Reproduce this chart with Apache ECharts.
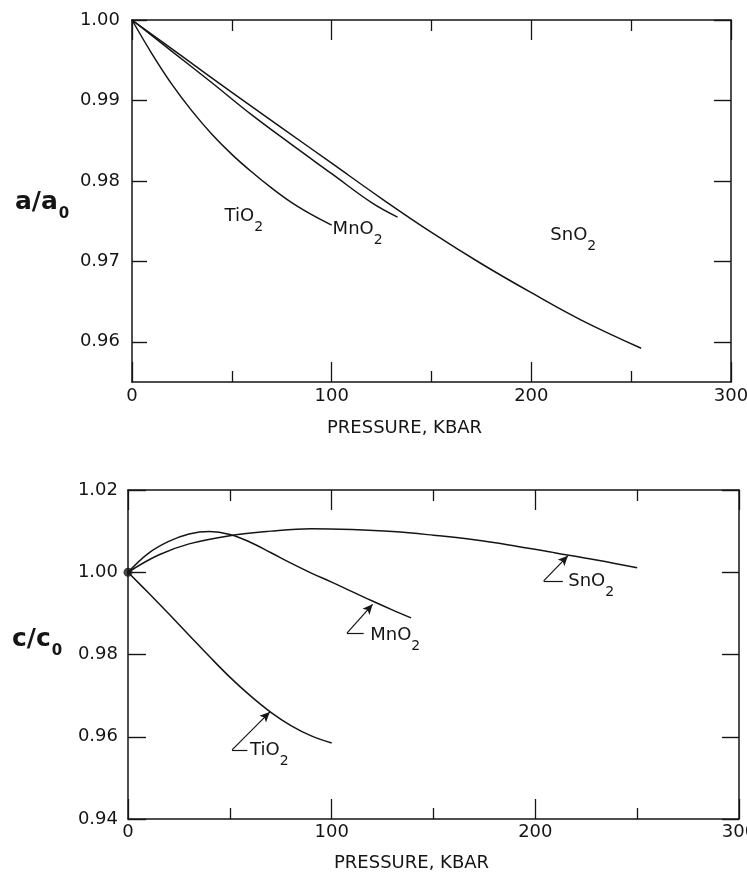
<!DOCTYPE html>
<html><head><meta charset="utf-8">
<script src="https://cdn.jsdelivr.net/npm/echarts@6/dist/echarts.min.js"></script>
<style>html,body{margin:0;padding:0;background:#fff}#c{width:747px;height:875px}</style>
</head><body><div id="c"></div>
<script>
// ---------------- data ----------------
const pressureTicks = [0, 100, 200, 300];
const aTicks = [0.96, 0.97, 0.98, 0.99, 1.00];
const cTicks = [0.94, 0.96, 0.98, 1.00, 1.02];

// upper panel: a/a0 vs pressure (kbar)
const aTiO2 = [[0,1.0],[10,0.9958],[20,0.9920],[30,0.9887],[40,0.9858],[50,0.9833],[60,0.9811],[70,0.9791],[80,0.9773],[90,0.9758],[100,0.9745]];
const aMnO2 = [[0,1.0],[20,0.9961],[40,0.9922],[60,0.9882],[80,0.9845],[100,0.9809],[120,0.9773],[133,0.9755]];
const aSnO2 = [[0,1.0],[25,0.9955],[50,0.9910],[75,0.9866],[100,0.9822],[125,0.9778],[150,0.9736],[175,0.9697],[200,0.9661],[225,0.9627],[255,0.9592]];

// lower panel: c/c0 vs pressure (kbar)
const cTiO2 = [[0,1.0],[10,0.9950],[20,0.9899],[30,0.9847],[40,0.9795],[50,0.9745],[60,0.9700],[70,0.9660],[80,0.9627],[90,0.9602],[100,0.9585]];
const cMnO2 = [[0,1.0],[10,1.0046],[20,1.0075],[30,1.0093],[40,1.0099],[50,1.0092],[60,1.0073],[70,1.0048],[80,1.0022],[90,0.9998],[100,0.9976],[110,0.9953],[120,0.9930],[130,0.9908],[139,0.9889]];
const cSnO2 = [[0,1.0],[15,1.0042],[30,1.0069],[50,1.0089],[70,1.0100],[90,1.0106],[110,1.0104],[130,1.0099],[150,1.0090],[170,1.0079],[190,1.0064],[210,1.0047],[230,1.0030],[250,1.0011]];
const cOrigin = [[0, 1.0]];

// curve labels (data units)
const aLabelTiO2 = [56, 0.9753];
const aLabelMnO2 = [113, 0.9737];
const aLabelSnO2 = [221, 0.9730];
const cLabelTiO2 = [59.7, 0.9562];
const cLabelMnO2 = [118.7, 0.9841];
const cLabelSnO2 = [215.9, 0.9974];
// leader lines: label end -> corner -> arrow tip (data units)
const cLeaderTiO2 = [[58.6,0.9568],[51.1,0.9568],[69.6,0.9660]];
const cLeaderMnO2 = [[115.7,0.9852],[107.5,0.9852],[120.1,0.9922]];
const cLeaderSnO2 = [[213.5,0.9979],[204.1,0.9979],[216,1.0040]];

// ---------------- chart ----------------
const INK = '#151515';
const FONT = 'DejaVu Sans';
const chart = echarts.init(document.getElementById('c'), null, {renderer: 'canvas'});

const numLabel = {color: INK, fontFamily: FONT, fontSize: 18};
const subRich = {
  m: {fontFamily: FONT, fontSize: 18, lineHeight: 22, verticalAlign: 'top', color: INK},
  s: {fontFamily: FONT, fontSize: 14, lineHeight: 14, padding: [13,0,0,0], verticalAlign: 'top', color: INK}
};

function xPair(gridIndex, margin) {
  const base = {
    type: 'value', gridIndex, min: 0, max: 300, interval: 100,
    splitLine: {show: false},
    axisLine: {show: true, onZero: false, lineStyle: {color: INK, width: 1.5}},
    axisTick: {show: true, inside: true, length: 20, lineStyle: {color: INK, width: 1.3}},
    minorTick: {show: true, splitNumber: 2, length: 11, lineStyle: {color: INK, width: 1.3}},
    minorSplitLine: {show: false}
  };
  return [
    Object.assign({}, base, {position: 'bottom', axisLabel: Object.assign({}, numLabel, {margin, customValues: pressureTicks})}),
    Object.assign({}, base, {position: 'top', axisLabel: {show: false}})
  ];
}
function yPair(gridIndex, min, max, ticks, margin, lenL, lenR) {
  const base = {
    type: 'value', gridIndex, min, max, scale: true,
    splitLine: {show: false},
    axisLine: {show: true, onZero: false, lineStyle: {color: INK, width: 1.5}},
  };
  return [
    Object.assign({}, base, {position: 'left',
      axisTick: {show: true, inside: true, length: lenL, customValues: ticks, lineStyle: {color: INK, width: 1.4}},
      axisLabel: Object.assign({}, numLabel, {margin, customValues: ticks, formatter: v => v.toFixed(2)})}),
    Object.assign({}, base, {position: 'right',
      axisTick: {show: true, inside: true, length: lenR, customValues: ticks, lineStyle: {color: INK, width: 1.4}},
      axisLabel: {show: false}})
  ];
}

function tag(coord, base, sub, position) {
  return {
    symbol: 'circle', symbolSize: 1, silent: true, animation: false,
    itemStyle: {color: 'rgba(0,0,0,0)'},
    label: {show: true, position, distance: 0, formatter: '{m|' + base + '}{s|' + sub + '}', rich: subRich},
    data: [{coord}]
  };
}
function leader(pts) {
  return {
    silent: true, animation: false, symbol: ['none', 'none'], label: {show: false},
    lineStyle: {color: INK, width: 1.2, type: 'solid'},
    emphasis: {disabled: true},
    data: [
      [{coord: pts[0]}, {coord: pts[1]}],
      [{coord: pts[1]}, {coord: pts[2], symbol: 'arrow', symbolSize: [7, 10]}]
    ]
  };
}
function curve(xi, yi, data, extra) {
  return Object.assign({
    type: 'line', xAxisIndex: xi, yAxisIndex: yi, data,
    showSymbol: false, symbol: 'none', smooth: 0.4, silent: true,
    lineStyle: {color: INK, width: 1.5}, emphasis: {disabled: true}
  }, extra || {});
}

const option = {
  animation: false,
  backgroundColor: '#ffffff',
  grid: [
    {left: 132, top: 20, width: 599, height: 362, containLabel: false, outerBoundsMode: 'none'},
    {left: 128, top: 490, width: 611, height: 329, containLabel: false, outerBoundsMode: 'none'}
  ],
  title: [
    {text: 'PRESSURE, KBAR', left: 327, top: 417, padding: 0,
     textStyle: {fontFamily: FONT, fontSize: 18, fontWeight: 'normal', color: INK, lineHeight: 22}},
    {text: 'PRESSURE, KBAR', left: 334, top: 852, padding: 0,
     textStyle: {fontFamily: FONT, fontSize: 18, fontWeight: 'normal', color: INK, lineHeight: 22}},
    {text: '{m|a/a}{s|0}', left: 15, top: 190, padding: 0,
     textStyle: {rich: {
       m: {fontFamily: FONT, fontSize: 25, lineHeight: 30, verticalAlign: 'top', color: INK},
       s: {fontFamily: FONT, fontSize: 15, lineHeight: 15, padding: [17,0,0,1], verticalAlign: 'top', color: INK}}}},
    {text: '{m|c/c}{s|0}', left: 12, top: 627, padding: 0,
     textStyle: {rich: {
       m: {fontFamily: FONT, fontSize: 25, lineHeight: 30, verticalAlign: 'top', color: INK},
       s: {fontFamily: FONT, fontSize: 15, lineHeight: 15, padding: [17,0,0,1], verticalAlign: 'top', color: INK}}}}
  ],
  xAxis: [].concat(xPair(0, 5), xPair(1, 4)),
  yAxis: [].concat(yPair(0, 0.955, 1.0, aTicks, 12, 15, 17), yPair(1, 0.94, 1.02, cTicks, 10, 18, 17)),
  series: [
    curve(0, 0, aTiO2, {markPoint: tag(aLabelTiO2, 'TiO', '2', 'inside')}),
    curve(0, 0, aMnO2, {markPoint: tag(aLabelMnO2, 'MnO', '2', 'inside')}),
    curve(0, 0, aSnO2, {markPoint: tag(aLabelSnO2, 'SnO', '2', 'inside')}),
    curve(2, 2, cTiO2, {markPoint: tag(cLabelTiO2, 'TiO', '2', 'right'), markLine: leader(cLeaderTiO2)}),
    curve(2, 2, cMnO2, {markPoint: tag(cLabelMnO2, 'MnO', '2', 'right'), markLine: leader(cLeaderMnO2)}),
    curve(2, 2, cSnO2, {markPoint: tag(cLabelSnO2, 'SnO', '2', 'right'), markLine: leader(cLeaderSnO2)}),
    {type: 'scatter', xAxisIndex: 2, yAxisIndex: 2, data: cOrigin, symbolSize: 9, clip: false, silent: true,
     itemStyle: {color: INK}, emphasis: {disabled: true}}
  ]
};
chart.setOption(option);
</script>
</body></html>
